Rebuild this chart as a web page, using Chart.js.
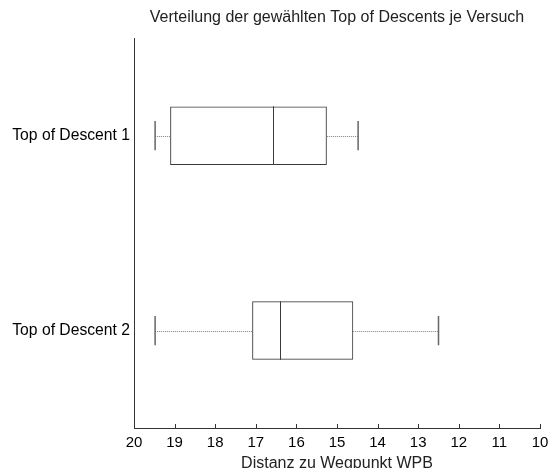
<!DOCTYPE html>
<html>
<head>
<meta charset="utf-8">
<script src="https://cdn.jsdelivr.net/npm/chart.js@4"></script>
<style>
  html, body { margin: 0; padding: 0; background: #fff; }
</style>
</head>
<body>
<canvas id="chart" width="555" height="468"></canvas>
<script>
  // Boxplot values per Versuch (x axis runs from 20 down to 10)
  var categories = ['Top of Descent 1', 'Top of Descent 2'];
  var whiskerMin = [14.48, 12.5];
  var quartile1 = [15.25, 14.6];
  var medians = [16.58, 16.4];
  var quartile3 = [19.11, 17.09];
  var whiskerMax = [19.48, 19.48];
  var xTicks = [20, 19, 18, 17, 16, 15, 14, 13, 12, 11, 10];

  var fontFamily = "'Liberation Sans', Arial, sans-serif";

  // medians, whiskers and caps drawn over the floating bars
  var boxplotExtras = {
    id: 'boxplotExtras',
    afterDatasetsDraw: function(chart) {
      var ctx = chart.ctx;
      var x = chart.scales.x;
      var meta = chart.getDatasetMeta(0);
      ctx.save();
      meta.data.forEach(function(bar, i) {
        var cy = bar.y;
        var half = bar.height / 2;
        var xMed = x.getPixelForValue(medians[i]);
        var xQ1 = x.getPixelForValue(quartile1[i]);
        var xQ3 = x.getPixelForValue(quartile3[i]);
        var xMin = x.getPixelForValue(whiskerMin[i]);
        var xMax = x.getPixelForValue(whiskerMax[i]);

        // median
        ctx.strokeStyle = '#3a3a3a';
        ctx.lineWidth = 1;
        ctx.setLineDash([]);
        ctx.beginPath();
        ctx.moveTo(Math.round(xMed) + 0.5, cy - half);
        ctx.lineTo(Math.round(xMed) + 0.5, cy + half);
        ctx.stroke();

        // whiskers (dotted)
        ctx.strokeStyle = '#808080';
        ctx.setLineDash([1, 1]);
        ctx.beginPath();
        ctx.moveTo(xQ1, Math.round(cy) + 0.5);
        ctx.lineTo(xMin, Math.round(cy) + 0.5);
        ctx.moveTo(xQ3, Math.round(cy) + 0.5);
        ctx.lineTo(xMax, Math.round(cy) + 0.5);
        ctx.stroke();

        // caps
        ctx.setLineDash([]);
        ctx.strokeStyle = '#666';
        ctx.lineWidth = 1.5;
        ctx.beginPath();
        ctx.moveTo(xMin, cy - half / 2);
        ctx.lineTo(xMin, cy + half / 2);
        ctx.moveTo(xMax, cy - half / 2);
        ctx.lineTo(xMax, cy + half / 2);
        ctx.stroke();
      });

      // inward tick marks on the x axis
      var bottom = chart.chartArea.bottom;
      ctx.strokeStyle = '#333';
      ctx.lineWidth = 1;
      ctx.beginPath();
      x.ticks.forEach(function(t) {
        var px = Math.round(x.getPixelForValue(t.value)) + 0.5;
        ctx.moveTo(px, bottom);
        ctx.lineTo(px, bottom - 4);
      });
      ctx.stroke();
      ctx.restore();
    }
  };

  new Chart(document.getElementById('chart'), {
    type: 'bar',
    data: {
      labels: categories,
      datasets: [{
        data: categories.map(function(c, i) { return [quartile1[i], quartile3[i]]; }),
        backgroundColor: 'rgba(255,255,255,0)',
        borderColor: '#3a3a3a',
        borderWidth: 1,
        borderSkipped: false,
        barPercentage: 0.3,
        categoryPercentage: 1
      }]
    },
    options: {
      indexAxis: 'y',
      responsive: false,
      animation: false,
      layout: { padding: { left: 0, right: 15, top: 0, bottom: 0 } },
      plugins: {
        legend: { display: false },
        tooltip: { enabled: false },
        title: {
          display: true,
          fullSize: false,
          text: 'Verteilung der gewählten Top of Descents je Versuch',
          color: '#222',
          font: { family: fontFamily, size: 16, weight: 'normal' },
          padding: { top: 8, bottom: 11 }
        }
      },
      scales: {
        x: {
          min: 10,
          max: 20,
          reverse: true,
          afterBuildTicks: function(scale) {
            scale.ticks = xTicks.map(function(v) { return { value: v }; });
          },
          afterFit: function(scale) { scale.height = 40; },
          grid: { display: false, drawTicks: false },
          border: { display: true, color: '#333' },
          ticks: {
            color: '#000',
            padding: 6,
            font: { family: fontFamily, size: 15 }
          },
          title: {
            display: true,
            text: 'Distanz zu Wegpunkt WPB',
            color: '#222',
            padding: { top: 0, bottom: -5 },
            font: { family: fontFamily, size: 16 }
          }
        },
        y: {
          afterFit: function(scale) { scale.width = 134; },
          grid: { display: false, drawTicks: false },
          border: { display: true, color: '#333' },
          ticks: {
            color: '#000',
            padding: 4,
            font: { family: fontFamily, size: 15.7 }
          }
        }
      }
    },
    plugins: [boxplotExtras]
  });
</script>
</body>
</html>
